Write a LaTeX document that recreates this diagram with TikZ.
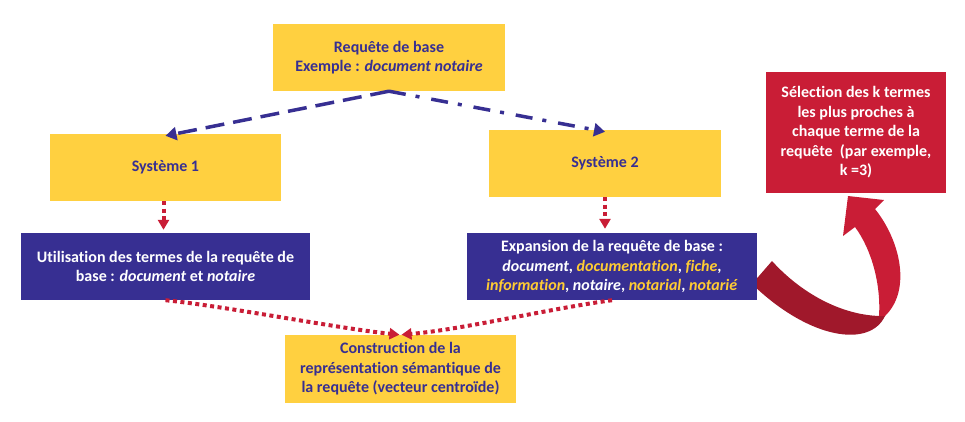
\documentclass[tikz,border=0pt]{standalone}
\usepackage{fontspec}
\setmainfont[Ligatures=NoCommon]{Carlito}
\usetikzlibrary{arrows.meta}
\definecolor{cyel}{HTML}{FFD040}
\definecolor{ctxtyel}{HTML}{FFCC33}
\definecolor{cblue}{HTML}{372F92}
\definecolor{cred}{HTML}{C91D36}
\definecolor{cdred}{HTML}{A0182B}
\begin{document}
\begin{tikzpicture}[x=1pt,y=-1pt,
  box/.style={rectangle, inner sep=0pt, align=center, font=\bfseries\fontsize{16}{19.5}\selectfont},
  ybox/.style={box, fill=cyel, text=cblue},
  bbox/.style={box, fill=cblue, text=white},
  rbox/.style={box, fill=cred, text=white},
  dasharrow/.style={draw=cblue, line width=3.5pt, -{Triangle[length=11pt,width=13pt]}},
  dotarrow/.style={draw=cred, line width=4pt, dash pattern=on 4pt off 3.5pt, -{Triangle[length=10pt,width=11pt]}}
]
\useasboundingbox (0,0) rectangle (965,421);
% ribbon arrow
\fill[cdred] (752,284) -- (772,261) .. controls (800,292) and (840,315) .. (880,316)
  -- (885,316) .. controls (870,348) and (810,340) .. (752,284) -- cycle;
\fill[cred] (879,316) .. controls (881,285) and (872,250) .. (855,227) -- (843,236) -- (848,196)
  -- (884,200) -- (875,209) .. controls (900,240) and (912,290) .. (885,316) -- cycle;
% boxes
\node[ybox, minimum width=232pt, minimum height=67pt] (top) at (389,57.5)
  {Requête de base\\Exemple : \textit{document notaire}};
\node[ybox, minimum width=231pt, minimum height=67pt] (s1) at (165.5,167.5) {Système 1};
\node[ybox, minimum width=232pt, minimum height=67pt] (s2) at (605,163.5) {Système 2};
\node[bbox, minimum width=289pt, minimum height=67pt] (b1) at (165.5,266.5)
  {Utilisation des termes de la requête de\\base : \textit{document} et \textit{notaire}};
\node[bbox, minimum width=290pt, minimum height=67pt] (b2) at (612,266.5)
  {Expansion de la requête de base :\\
   \textit{document}, {\color{ctxtyel}\textit{documentation}}, {\color{ctxtyel}\textit{fiche}},\\
   {\color{ctxtyel}\textit{information}}, \textit{notaire}, {\color{ctxtyel}\textit{notarial}}, {\color{ctxtyel}\textit{notarié}}};
\node[rbox, minimum width=180pt, minimum height=121pt] (sel) at (856,132.5)
  {Sélection des k termes\\les plus proches à\\chaque terme de la\\requête~ (par exemple,\\k =3)};
\node[ybox, minimum width=231pt, minimum height=68pt] (bot) at (400.5,369)
  {Construction de la\\représentation sémantique de\\la requête (vecteur centroïde)};
% connectors
\draw[dasharrow, dash pattern=on 19pt off 9pt] (top.south) -- ([yshift=-2pt]s1.north);
\draw[dasharrow, dash pattern=on 17pt off 10pt on 4pt off 12pt] (top.south) -- ([yshift=-2pt]s2.north);
\draw[dotarrow, shorten >=3pt] ([xshift=-2pt]s1.south) -- ([xshift=-2pt]b1.north);
\draw[dotarrow, shorten >=4pt] (s2.south) -- (s2.south |- b2.north);
\draw[dotarrow, shorten >=1pt] (b1.south) .. controls +(60,6) and +(-60,-6) .. (bot.north);
\draw[dotarrow, shorten >=1pt] (b2.south) .. controls +(-60,8) and +(60,-5) .. (bot.north);
\end{tikzpicture}
\end{document}
